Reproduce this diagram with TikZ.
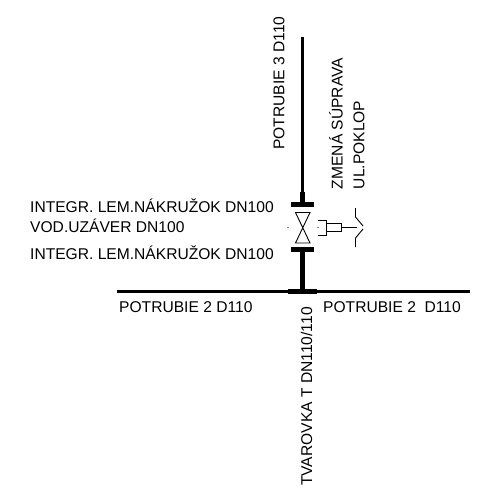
\documentclass[tikz,border=0pt]{standalone}
\usepackage{fontspec}
\setmainfont{Liberation Sans}
\usepackage{tikz}
\tikzset{
  label text/.style={inner sep=0pt, font=\fontsize{15.6}{18}\selectfont},
  pipe/.style={line width=2.4pt},
  flange/.style={line width=4.5pt},
  thin part/.style={line width=0.9pt}
}

\begin{document}
\begin{tikzpicture}[x=1pt, y=-1pt]
      \useasboundingbox (0,0) rectangle (485,487);
      \coordinate (top) at (302.5,37);
      \coordinate (neck) at (302.5,192);
      \coordinate (f1l) at (291,204.5);
      \coordinate (f1r) at (314,204.5);
      \coordinate (f1) at (302.5,204.5);
      \coordinate (f2l) at (291,249.5);
      \coordinate (f2r) at (314,249.5);
      \coordinate (f2) at (302.5,249.5);
      \coordinate (t) at (302.5,291.5);
      \coordinate (tl) at (288,291.5);
      \coordinate (tr) at (317,291.5);
      \coordinate (left) at (117,291.5);
      \coordinate (right) at (470,291.5);
      \coordinate (v1) at (295.5,212.5);
      \coordinate (v2) at (310,212.5);
      \coordinate (v3) at (295.5,243);
      \coordinate (v4) at (310,243);
      \coordinate (stem) at (341,227.5);
      \coordinate (stemend) at (357,227.5);
      \draw [pipe] (top) -- (neck);
      \draw [pipe, line width=4.5pt] (neck) -- (f1);
      \draw [flange] (f1l) -- (f1r);
      \draw [flange] (f2l) -- (f2r);
      \draw [pipe, line width=4.5pt] (f2) -- (t);
      \draw [pipe] (left) -- (right);
      \draw [flange] (tl) -- (tr);
      \draw [thin part] (v1) -- (v2) -- (v3) -- (v4) -- cycle;
      \draw [thin part] (326,223) rectangle (341,231.5);
      \draw [thin part] (317.5,220) -- (326,220) -- (326,235) -- (317.5,235);
      \draw [thin part] (stem) -- (stemend);
      \draw [thin part] (355.5,208) -- (355.5,217) -- (363,226);
      \draw [thin part] (355.5,247) -- (355.5,238) -- (363,229);
      \fill (288,227.5) circle (0.7);
      \fill (318,227.5) circle (0.7);
      \node [label text, rotate=90] (p3) at (279,83) {POTRUBIE 3 D110};
      \node [label text, rotate=90] (zmena) at (336,123.5) {ZMENÁ SÚPRAVA};
      \node [label text, rotate=90] (poklop) at (359,145) {UL.POKLOP};
      \node [label text, anchor=west] (lem1) at (30,206) {INTEGR. LEM.NÁKRUŽOK DN100};
      \node [label text, anchor=west] (uzaver) at (30,226) {VOD.UZÁVER DN100};
      \node [label text, anchor=west] (lem2) at (30,253) {INTEGR. LEM.NÁKRUŽOK DN100};
      \node [label text, anchor=west] (p2l) at (119,307) {POTRUBIE 2 D110};
      \node [label text, anchor=west] (p2r) at (323,307) {POTRUBIE 2\ \ D110};
      \node [label text, rotate=90, anchor=west] (tvar) at (306.5,486) {TVAROVKA T DN110/110};
\end{tikzpicture}
\end{document}
